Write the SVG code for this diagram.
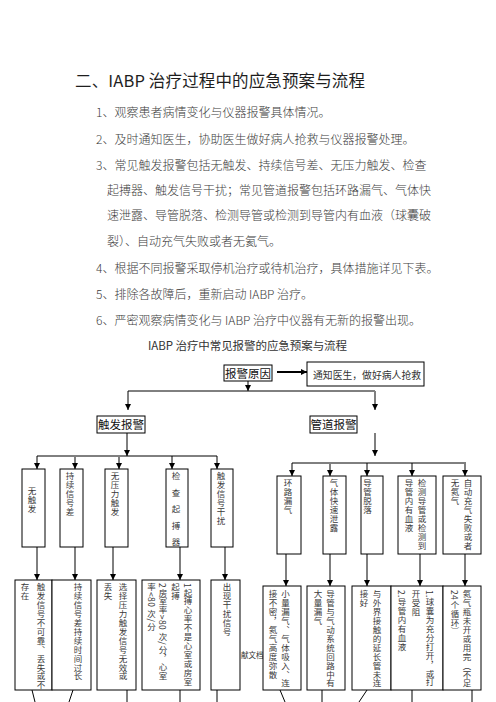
<svg xmlns="http://www.w3.org/2000/svg" width="496" height="702" viewBox="0 0 496 702">
<defs>
<style>
text{font-family:"Noto Sans CJK SC","Noto Sans",sans-serif;fill:#333}
.t{font-size:16.5px;fill:#1e1e1e}
.b{font-size:12px;fill:#3c3c3c;font-weight:300}
.n{font-size:11.5px;fill:#111}
.v{writing-mode:vertical-rl;font-size:8.5px;letter-spacing:0.4px;fill:#3a3a3a}
.box{fill:#fff;stroke:#000;stroke-width:1}
.k{stroke:#000;stroke-width:1;fill:none}
.g{stroke:#7f7f7f;stroke-width:2;fill:none}
.w{stroke:#000;stroke-width:2;fill:none}
</style>
<marker id="a" markerWidth="6" markerHeight="6" refX="6" refY="3" orient="auto" markerUnits="userSpaceOnUse"><path d="M0,0 L6,3 L0,6 z" fill="#000"/></marker>
</defs>
<rect width="496" height="702" fill="#fff"/>
<g id="text-block">
<text class="t" x="75" y="86.5" textLength="290">二、IABP 治疗过程中的应急预案与流程</text>
<text class="b" x="96" y="117">1、观察患者病情变化与仪器报警具体情况。</text>
<text class="b" x="96" y="144">2、及时通知医生，协助医生做好病人抢救与仪器报警处理。</text>
<text class="b" x="96" y="170">3、常见触发报警包括无触发、持续信号差、无压力触发、检查</text>
<text class="b" x="107" y="195">起搏器、触发信号干扰；常见管道报警包括环路漏气、气体快</text>
<text class="b" x="107" y="220">速泄露、导管脱落、检测导管或检测到导管内有血液（球囊破</text>
<text class="b" x="107" y="246">裂）、自动充气失败或者无氦气。</text>
<text class="b" x="96" y="273">4、根据不同报警采取停机治疗或待机治疗，具体措施详见下表。</text>
<text class="b" x="96" y="299">5、排除各故障后，重新启动 IABP 治疗。</text>
<text class="b" x="96" y="325">6、严密观察病情变化与 IABP 治疗中仪器有无新的报警出现。</text>
<text x="148" y="350" font-size="11.5" textLength="199">IABP 治疗中常见报警的应急预案与流程</text>
</g>
<g id="connectors">
<line class="w" x1="277" y1="372" x2="307" y2="372" marker-end="url(#a)"/>
<line class="k" x1="248" y1="381" x2="248" y2="391" marker-end="url(#a)"/>
<line class="k" x1="128" y1="391" x2="375" y2="391"/>
<line class="k" x1="128" y1="391" x2="128" y2="410" marker-end="url(#a)"/>
<line class="g" x1="375" y1="391" x2="375" y2="410" marker-end="url(#a)"/>
<line class="k" x1="127" y1="433" x2="127" y2="456" marker-end="url(#a)"/>
<line class="k" x1="37" y1="456" x2="217" y2="456"/>
<line class="k" x1="37" y1="456" x2="37" y2="469" marker-end="url(#a)"/>
<line class="g" x1="75" y1="456" x2="75" y2="469" marker-end="url(#a)"/>
<line class="g" x1="119" y1="456" x2="119" y2="469" marker-end="url(#a)"/>
<line class="k" x1="172" y1="456" x2="172" y2="469" marker-end="url(#a)"/>
<line class="k" x1="217" y1="456" x2="217" y2="469" marker-end="url(#a)"/>
<line class="k" x1="37" y1="547" x2="37" y2="580" marker-end="url(#a)"/>
<line class="g" x1="75" y1="547" x2="75" y2="580" marker-end="url(#a)"/>
<line class="k" x1="113" y1="547" x2="113" y2="580" marker-end="url(#a)"/>
<line class="g" x1="180" y1="547" x2="180" y2="580" marker-end="url(#a)"/>
<line class="g" x1="225" y1="547" x2="225" y2="580" marker-end="url(#a)"/>
<line class="g" x1="375" y1="433" x2="375" y2="456" marker-end="url(#a)"/>
<line class="k" x1="292" y1="463" x2="466" y2="463"/>
<line class="k" x1="292" y1="463" x2="292" y2="476" marker-end="url(#a)"/>
<line class="g" x1="330" y1="463" x2="330" y2="476" marker-end="url(#a)"/>
<line class="k" x1="367" y1="463" x2="367" y2="476" marker-end="url(#a)"/>
<line class="k" x1="412" y1="463" x2="412" y2="476" marker-end="url(#a)"/>
<line class="g" x1="465" y1="463" x2="465" y2="476" marker-end="url(#a)"/>
<line class="g" x1="286" y1="554" x2="286" y2="586" marker-end="url(#a)"/>
<line class="g" x1="330" y1="554" x2="330" y2="586" marker-end="url(#a)"/>
<line class="k" x1="367" y1="554" x2="367" y2="586" marker-end="url(#a)"/>
<line class="g" x1="420" y1="554" x2="420" y2="586" marker-end="url(#a)"/>
<line class="g" x1="465" y1="554" x2="465" y2="586" marker-end="url(#a)"/>
<line class="k" x1="32" y1="690" x2="35" y2="702"/>
<line class="k" x1="73" y1="690" x2="69" y2="702"/>
<line class="k" x1="127" y1="690" x2="127" y2="702"/>
<line class="g" x1="180" y1="690" x2="180" y2="702"/>
<line class="k" x1="217" y1="690" x2="217" y2="702"/>
<line class="k" x1="280" y1="690" x2="285" y2="702"/>
<line class="k" x1="322" y1="690" x2="322" y2="702"/>
<line class="k" x1="367" y1="690" x2="359" y2="702"/>
<line class="k" x1="412" y1="690" x2="412" y2="702"/>
<line class="k" x1="472" y1="690" x2="472" y2="702"/>
</g>
<g id="n-cause"><rect class="box" x="224" y="365" width="48" height="16"/><text class="n" x="248" y="377.5" text-anchor="middle">报警原因</text></g>
<g id="n-notify"><rect class="box" x="307" y="362" width="117" height="24"/><text x="313" y="378.5" font-size="9.8" textLength="108">通知医生，做好病人抢救</text></g>
<g id="n-trigger"><rect class="box" x="97" y="416" width="48" height="17"/><text class="n" x="121" y="429" text-anchor="middle">触发报警</text></g>
<g id="n-tube"><rect class="box" x="310" y="416" width="47" height="17"/><text class="n" x="333.5" y="429" text-anchor="middle">管道报警</text></g>
<g id="t1"><rect class="box" x="22" y="469" width="23" height="78"/><text class="v" x="32" y="487">无触发</text></g>
<g id="t2"><rect class="box" x="60" y="469" width="23" height="78"/><text class="v" x="70" y="472">持续信号差</text></g>
<g id="t3"><rect class="box" x="105" y="469" width="23" height="78"/><text class="v" x="115" y="472">无压力触发</text></g>
<g id="t4"><rect class="box" x="166" y="469" width="22" height="78"/><text class="v" x="176" y="472" style="letter-spacing:8px">检查起搏器</text></g>
<g id="t5"><rect class="box" x="211" y="469" width="22" height="78"/><text class="v" x="221" y="472">触发信号干扰</text></g>
<g id="p1"><rect class="box" x="277" y="476" width="24" height="78"/><text class="v" x="288" y="479">环路漏气</text></g>
<g id="p2"><rect class="box" x="323" y="476" width="23" height="78"/><text class="v" x="334" y="479">气体快速泄露</text></g>
<g id="p3"><rect class="box" x="361" y="476" width="22" height="78"/><text class="v" x="367.5" y="479">导管脱落</text></g>
<g id="p4"><rect class="box" x="398" y="476" width="38" height="78"/><text class="v" x="422" y="479">检测导管或检测到</text><text class="v" x="409" y="479">导管内有血液</text></g>
<g id="p5"><rect class="box" x="443" y="476" width="38" height="78"/><text class="v" x="468" y="479">自动充气失败或者</text><text class="v" x="455" y="479">无氦气</text></g>
<g id="r1"><rect class="box" x="15" y="580" width="37" height="110"/><text class="v" x="41" y="583">触发信号不可靠、丢失或不</text><text class="v" x="25" y="583">存在</text></g>
<g id="r2"><rect class="box" x="52" y="580" width="39" height="110"/><text class="v" x="78" y="583">持续信号差持续时间过长</text></g>
<g id="r3"><rect class="box" x="97" y="580" width="39" height="110"/><text class="v" x="123" y="583">选择压力触发信号无效或</text><text class="v" x="108" y="583">丢失</text></g>
<g id="r4"><rect class="box" x="142" y="580" width="58" height="110"/><text class="v" x="188" y="583">1起搏心率不是心室或房室</text><text class="v" x="175.5" y="583">起搏</text><text class="v" x="163" y="583">2房室率&gt;80 次/分，心室</text><text class="v" x="151.5" y="583">率&lt;80 次/分</text></g>
<g id="r5"><rect class="box" x="211" y="580" width="29" height="110"/><text class="v" x="227" y="583">出现干扰信号</text></g>
<text x="241" y="657.5" font-size="7.5" fill="#222">献文档</text>
<g id="s1"><rect class="box" x="263" y="586" width="38" height="104"/><text class="v" x="285.5" y="590">小量漏气、气体吸入、连</text><text class="v" x="273" y="590">接不密，氦气高度弥散</text></g>
<g id="s2"><rect class="box" x="307" y="586" width="38" height="104"/><text class="v" x="330.5" y="590">导管与气动系统回路中有</text><text class="v" x="318" y="590">大量漏气</text></g>
<g id="s3"><rect class="box" x="352" y="586" width="39" height="104"/><text class="v" x="377" y="590">与外界接触的延长管未连</text><text class="v" x="364" y="590">接好</text></g>
<g id="s4"><rect class="box" x="391" y="586" width="52" height="104"/><text class="v" x="430" y="590">1.球囊为充分打开，或打</text><text class="v" x="416" y="590">开受阻</text><text class="v" x="402" y="590">2.导管内有血液</text></g>
<g id="s5"><rect class="box" x="443" y="586" width="38" height="104"/><text class="v" x="467" y="590">氦气瓶未开或用完（不足</text><text class="v" x="455" y="590">24个循环）</text></g>
</svg>
